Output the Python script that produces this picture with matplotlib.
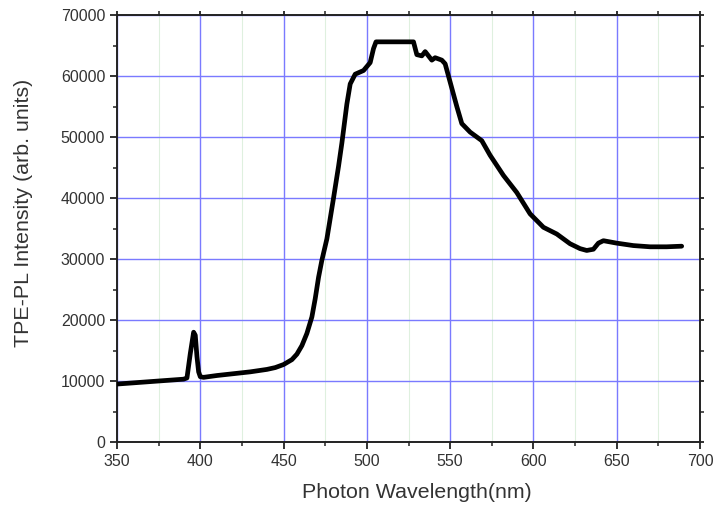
import matplotlib
matplotlib.use("Agg")
import matplotlib.pyplot as plt
from matplotlib.ticker import MultipleLocator

wavelength = [350, 360, 370, 380, 390, 392, 394, 396, 397, 398, 399, 400, 402,
              410, 420, 430, 440, 445, 450, 455, 458, 461, 464, 467, 469, 471,
              473, 476, 480, 483, 485, 488, 490, 493, 498, 502, 504, 505.5,
              528, 530, 533, 535, 537, 539, 541, 545, 547, 550, 554, 557, 562,
              566, 569, 574, 582, 590, 598, 606, 614, 622, 628, 632, 636, 639,
              642, 650, 660, 670, 680, 689]
intensity = [9500, 9700, 9900, 10100, 10300, 10500, 14500, 18000, 17500, 14000,
             11500, 10700, 10600, 10900, 11200, 11500, 11900, 12200, 12700,
             13500, 14400, 15800, 17800, 20500, 23500, 27000, 29800, 33300,
             40000, 45200, 49000, 55400, 58700, 60300, 60900, 62200, 64500,
             65600, 65600, 63500, 63300, 64000, 63300, 62600, 63000, 62600,
             62000, 59000, 55000, 52200, 50800, 50000, 49400, 47000, 43700,
             40900, 37400, 35200, 34100, 32500, 31700, 31400, 31600, 32600,
             33000, 32600, 32200, 32000, 32000, 32100]

x_ticks = [350, 400, 450, 500, 550, 600, 650, 700]
y_ticks = [0, 10000, 20000, 30000, 40000, 50000, 60000, 70000]

plt.rcParams['font.family'] = ['Liberation Sans', 'DejaVu Sans']

fig = plt.figure(figsize=(7.14, 5.08), dpi=100)
ax = fig.add_axes([117/714, 1-442/508, 583/714, 427/508])

ax.plot(wavelength, intensity, color='black', lw=3.4, solid_joinstyle='round',
        solid_capstyle='round', zorder=3)

ax.set_xlim(350, 700)
ax.set_ylim(0, 70000)
ax.set_xticks(x_ticks)
ax.set_yticks(y_ticks)
ax.xaxis.set_minor_locator(MultipleLocator(25))
ax.yaxis.set_minor_locator(MultipleLocator(5000))

ax.grid(which='major', color='#7a7aff', lw=1.0, zorder=0)
ax.grid(which='minor', axis='x', color='#dff0df', lw=0.8, zorder=0)
ax.set_axisbelow(True)

for s in ax.spines.values():
    s.set_linewidth(1.4)
    s.set_color('#222222')

ax.tick_params(which='major', direction='out', length=5, width=1.3,
               labelsize=11.5, colors='#222222', labelcolor='#333333')
ax.tick_params(which='minor', direction='out', length=3, width=1.1,
               colors='#222222')
ax.tick_params(which='both', top=True, right=True)
for t in ax.xaxis.get_ticklines(minor=False)[1::2] + ax.yaxis.get_ticklines(minor=False)[1::2]:
    t.set_markersize(3)

ax.set_xlabel('Photon Wavelength(nm)', fontsize=15.4, color='#333333')
ax.set_ylabel('TPE-PL Intensity (arb. units)', fontsize=15.4, color='#333333')
ax.xaxis.set_label_coords(0.514, -0.095)
ax.yaxis.set_label_coords(-0.144, 0.5375)

fig.savefig('out.png', dpi=100)
